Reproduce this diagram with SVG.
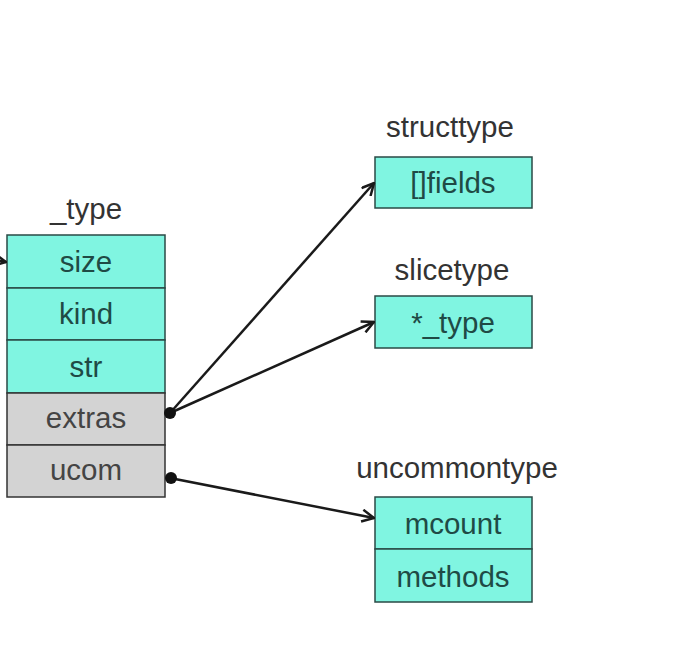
<svg xmlns="http://www.w3.org/2000/svg" width="690" height="662" viewBox="0 0 690 662">
<defs>
<style>
.c{fill:#80F5E1;stroke:#2a4a45;stroke-width:1.5}
.g{fill:#D3D3D3;stroke:#333;stroke-width:1.5}
.t{font-family:"Liberation Sans",Arial,sans-serif;font-size:29.5px;text-anchor:middle}
.tc{fill:#1f4a45}
.tg{fill:#444}
.lb{fill:#333}
.ln{stroke:#1a1a1a;stroke-width:2.5;fill:none}
</style>
<marker id="ah" viewBox="0 0 14 14" refX="13" refY="7" markerWidth="14" markerHeight="14" markerUnits="userSpaceOnUse" orient="auto">
<path d="M1,1 L13,7 L1,13" fill="none" stroke="#1a1a1a" stroke-width="2.5"/>
</marker>
</defs>
<rect width="690" height="662" fill="#fff"/>
<g id="type">
<text class="t lb" x="86" y="219">_type</text>
<rect class="c" x="7" y="235" width="158" height="53"/>
<text class="t tc" x="86" y="272">size</text>
<rect class="c" x="7" y="288" width="158" height="52"/>
<text class="t tc" x="86" y="324">kind</text>
<rect class="c" x="7" y="340" width="158" height="53"/>
<text class="t tc" x="86" y="377">str</text>
<rect class="g" x="7" y="393" width="158" height="52"/>
<text class="t tg" x="86" y="428">extras</text>
<rect class="g" x="7" y="445" width="158" height="52"/>
<text class="t tg" x="86" y="480">ucom</text>
</g>
<g id="structtype">
<text class="t lb" x="450" y="137">structtype</text>
<rect class="c" x="375" y="157" width="157" height="51"/>
<text class="t tc" x="453" y="193">[]fields</text>
</g>
<g id="slicetype">
<text class="t lb" x="452" y="280">slicetype</text>
<rect class="c" x="375" y="296" width="157" height="52"/>
<text class="t tc" x="453" y="333">*_type</text>
</g>
<g id="uncommontype">
<text class="t lb" x="457" y="478">uncommontype</text>
<rect class="c" x="375" y="497" width="157" height="52"/>
<text class="t tc" x="453" y="534">mcount</text>
<rect class="c" x="375" y="549" width="157" height="53"/>
<text class="t tc" x="453" y="587">methods</text>
</g>
<g id="connectors">
<line class="ln" x1="-10" y1="259" x2="6" y2="262" marker-end="url(#ah)"/>
<line class="ln" x1="170" y1="413" x2="374" y2="183" marker-end="url(#ah)"/>
<line class="ln" x1="170" y1="413" x2="374" y2="322" marker-end="url(#ah)"/>
<line class="ln" x1="170" y1="478" x2="374" y2="518" marker-end="url(#ah)"/>
<circle cx="170" cy="413" r="6" fill="#111"/>
<circle cx="171" cy="478" r="6" fill="#111"/>
</g>
</svg>
